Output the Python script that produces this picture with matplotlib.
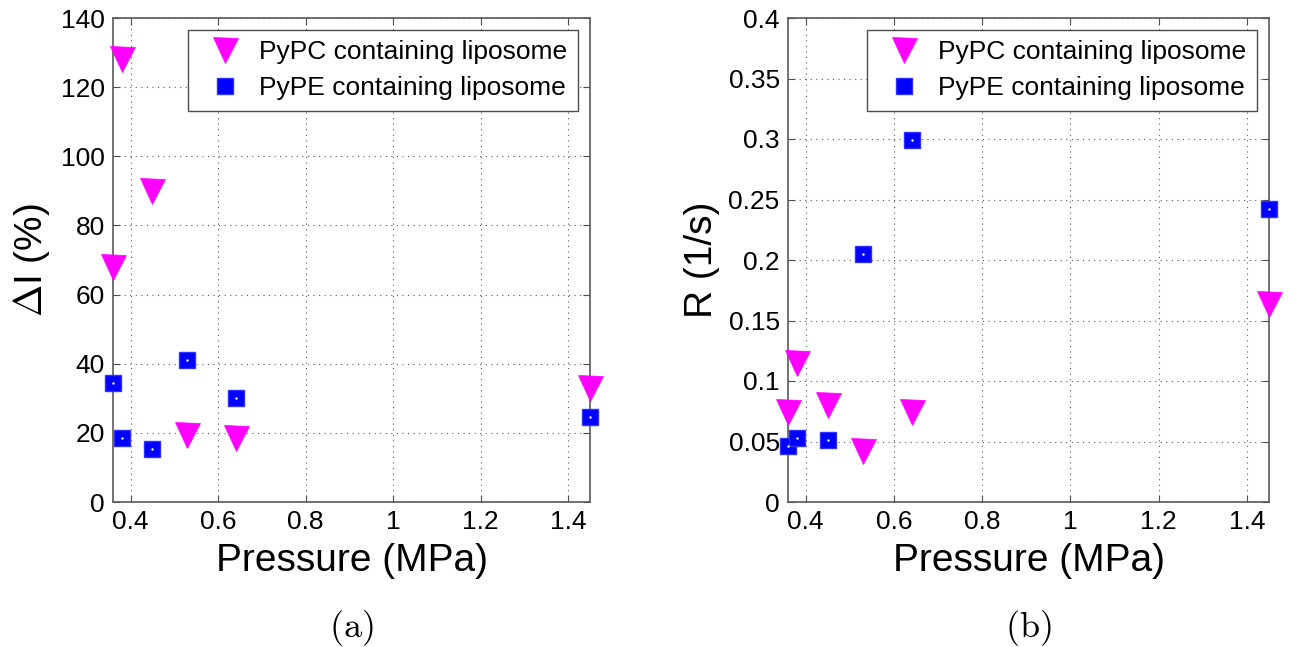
import matplotlib
matplotlib.use('Agg')
from matplotlib import pyplot as plt

plt.rcParams['font.family'] = ['Liberation Sans', 'DejaVu Sans']
plt.rcParams['mathtext.fontset'] = 'cm'

# Data
pressure = [0.36, 0.38, 0.45, 0.53, 0.64, 1.45]
dI_pypc = [68, 128, 90, 19.5, 18.5, 33]
dI_pype = [34.5, 18.6, 15.3, 41, 30, 24.5]
pressure_r = [0.36, 0.38, 0.45, 0.53, 0.64, 1.45]
R_pypc = [0.074, 0.115, 0.080, 0.042, 0.074, 0.164]
R_pype = [0.046, 0.053, 0.051, 0.205, 0.299, 0.242]

pc_label = 'PyPC containing liposome'
pe_label = 'PyPE containing liposome'
xticks = [0.4, 0.6, 0.8, 1, 1.2, 1.4]
xticklabels = ['0.4', '0.6', '0.8', '1', '1.2', '1.4']
yticks_a = [0, 20, 40, 60, 80, 100, 120, 140]
yticks_b = [0, 0.05, 0.1, 0.15, 0.2, 0.25, 0.3, 0.35, 0.4]
yticklabels_b = ['0', '0.05', '0.1', '0.15', '0.2', '0.25', '0.3', '0.35', '0.4']

W, H = 1316, 647
fig = plt.figure(figsize=(W/100, H/100), dpi=100)
ax_a = fig.add_axes([113/W, 145/H, 477/W, 484/H])
ax_b = fig.add_axes([788/W, 145/H, 481/W, 484/H])

def panel(ax, x, y_pc, y_pe, ylim, yticks, yticklabels, ylabel, caption):
    ax.plot(x, y_pc, 'v', color='#ff00ff', ms=18, mec='#ff00ff', mew=0.5,
            label=pc_label, clip_on=False, zorder=3)
    ax.plot(x, y_pe, 's', color='#0000ff', ms=12, mec='#3030ff', mew=1,
            label=pe_label, clip_on=False, zorder=3)
    ax.plot(x, y_pe, '.', color='white', ms=1.5, clip_on=False, zorder=4)
    ax.set_xlim(0.36, 1.45)
    ax.set_ylim(*ylim)
    ax.set_xticks(xticks)
    ax.set_xticklabels(xticklabels)
    ax.set_yticks(yticks)
    ax.set_yticklabels(yticklabels)
    ax.tick_params(direction='in', length=5, width=0.8, color='0.3',
                   labelsize=19, top=True, right=True, pad=6)
    ax.grid(True, linestyle=(0, (1, 4)), color='0.35', linewidth=0.8)
    for s in ax.spines.values():
        s.set_color('0.35')
        s.set_linewidth(1.2)
    ax.set_xlabel('Pressure (MPa)', fontsize=28, labelpad=6)
    ax.set_ylabel(ylabel, fontsize=28, labelpad=6)
    leg = ax.legend(loc='upper right', fontsize=19, frameon=True, fancybox=False,
                    edgecolor='0.3', framealpha=1, borderpad=0.4,
                    handletextpad=0.3, labelspacing=0.45, borderaxespad=0.45,
                    handlelength=2.0)
    leg.get_frame().set_linewidth(1.0)
    ax.text(0.5, -0.26, caption, transform=ax.transAxes, ha='center',
            va='center', fontsize=26)

panel(ax_a, pressure, dI_pypc, dI_pype, (0, 140), yticks_a,
      [str(v) for v in yticks_a], r'$\Delta$I (%)', r'$\mathrm{(a)}$')
panel(ax_b, pressure_r, R_pypc, R_pype, (0, 0.4), yticks_b,
      yticklabels_b, 'R (1/s)', r'$\mathrm{(b)}$')

fig.savefig('out.png', dpi=100)
